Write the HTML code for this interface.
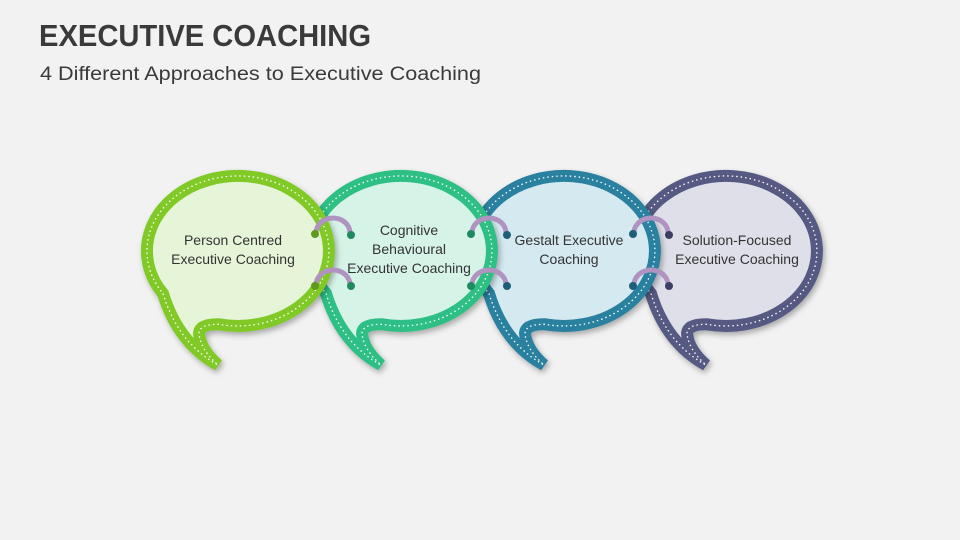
<!DOCTYPE html>
<html><head><meta charset="utf-8"><style>
body{margin:0;background:#f2f2f2;}
svg{display:block}
</style></head><body>
<svg width="960" height="540" viewBox="0 0 960 540" xmlns="http://www.w3.org/2000/svg">
<defs>
<path id="b" d="M -75,42.5 Q -60,92 -20,114 Q -38,98 -39,82 Q -38,73 -19,73.3 A 91 75 0 1 0 -75,42.5 Z"/>
<filter id="sh" x="-20%" y="-20%" width="140%" height="150%"><feDropShadow dx="2" dy="3" stdDeviation="3" flood-color="#000" flood-opacity="0.3"/></filter>
</defs>
<rect width="960" height="540" fill="#f2f2f2"/>
<text x="39" y="46" font-family="Liberation Sans, sans-serif" font-weight="bold" font-size="31" fill="#3a3a3a" textLength="332" lengthAdjust="spacingAndGlyphs">EXECUTIVE COACHING</text>
<text x="40" y="80" font-family="Liberation Sans, sans-serif" font-size="19" fill="#3a3a3a" textLength="441" lengthAdjust="spacingAndGlyphs">4 Different Approaches to Executive Coaching</text>

<g transform="translate(726,251)">
<use href="#b" fill="#dfdfe9" stroke="#565a82" stroke-width="12" filter="url(#sh)"/>
<use href="#b" fill="none" stroke="#fff" stroke-width="1.3" stroke-dasharray="1.5 3"/>
</g>
<g transform="translate(564,251)">
<use href="#b" fill="#d5e9f1" stroke="#2b809f" stroke-width="12" filter="url(#sh)"/>
<use href="#b" fill="none" stroke="#fff" stroke-width="1.3" stroke-dasharray="1.5 3"/>
</g>
<g transform="translate(401,251)">
<use href="#b" fill="#d6f3e8" stroke="#2fbf85" stroke-width="12" filter="url(#sh)"/>
<use href="#b" fill="none" stroke="#fff" stroke-width="1.3" stroke-dasharray="1.5 3"/>
</g>
<g transform="translate(238,251)">
<use href="#b" fill="#e6f5d8" stroke="#80c926" stroke-width="12" filter="url(#sh)"/>
<use href="#b" fill="none" stroke="#fff" stroke-width="1.3" stroke-dasharray="1.5 3"/>
</g>

<g fill="none" stroke="#b093c0" stroke-width="5">
<path d="M316,233 A17 15 0 0 1 350,233"/><path d="M316,285 A17 15 0 0 1 350,285"/>
<path d="M472,233 A17 15 0 0 1 506,233"/><path d="M472,285 A17 15 0 0 1 506,285"/>
<path d="M634,233 A17 15 0 0 1 668,233"/><path d="M634,285 A17 15 0 0 1 668,285"/>
</g>
<circle cx="315" cy="234" r="4" fill="#5e9a1c"/><circle cx="351" cy="235" r="4" fill="#1f8a60"/>
<circle cx="315" cy="286" r="4" fill="#5e9a1c"/><circle cx="351" cy="286" r="4" fill="#1f8a60"/>
<circle cx="471" cy="234" r="4" fill="#1f8a60"/><circle cx="507" cy="235" r="4" fill="#1f5e78"/>
<circle cx="471" cy="286" r="4" fill="#1f8a60"/><circle cx="507" cy="286" r="4" fill="#1f5e78"/>
<circle cx="633" cy="234" r="4" fill="#1f5e78"/><circle cx="669" cy="235" r="4" fill="#3d3f62"/>
<circle cx="633" cy="286" r="4" fill="#1f5e78"/><circle cx="669" cy="286" r="4" fill="#3d3f62"/>

<g font-family="Liberation Sans, sans-serif" font-size="14" fill="#333" text-anchor="middle">
<text x="233" y="245">Person Centred</text><text x="233" y="264">Executive Coaching</text>
<text x="409" y="235">Cognitive</text><text x="409" y="254">Behavioural</text><text x="409" y="273">Executive Coaching</text>
<text x="569" y="245">Gestalt Executive</text><text x="569" y="264">Coaching</text>
<text x="737" y="245">Solution-Focused</text><text x="737" y="264">Executive Coaching</text>
</g>
</svg>
</body></html>
